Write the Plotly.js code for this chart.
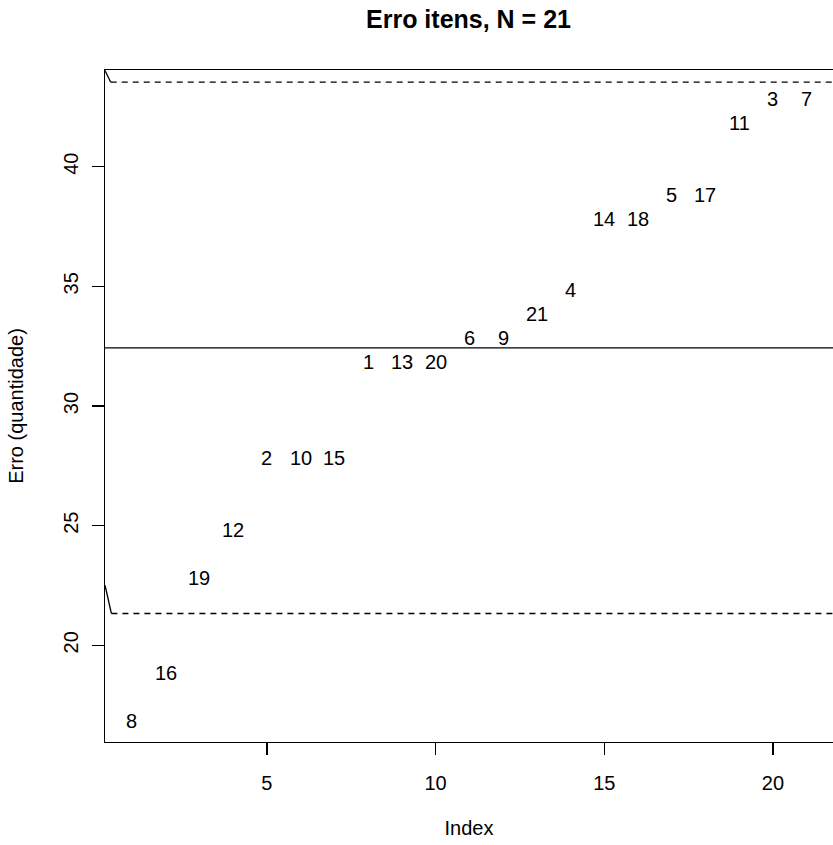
<!DOCTYPE html>
<html>
<head>
<meta charset="utf-8">
<script src="https://cdn.plot.ly/plotly-3.0.1.min.js"></script>
<style>html,body{margin:0;padding:0;background:#fff;}#chart{width:833px;height:845px;}</style>
</head>
<body>
<div id="chart"></div>
<script>
// Data
const indexVals = [1,2,3,4,5,6,7,8,9,10,11,12,13,14,15,16,17,18,19,20,21];
const errValues = [17,19,23,25,28,28,28,32,32,32,33,33,34,35,38,38,39,39,42,43,43];
const itemLabels = ["8","16","19","12","2","10","15","1","13","20","6","9","21","4","14","18","5","17","11","3","7"];
const meanLine = 32.43;
const lowerLimit = 21.33;
const upperLimit = 43.53;
// short connector segments near left edge [x0,y0,x1,y1]
const upperConnector = [0.2, 44.02, 0.37, 43.53];
const lowerConnector = [0.2, 22.51, 0.39, 21.33];
const xTicks = [5,10,15,20];
const yTicks = [20,25,30,35,40];

const font = "Liberation Sans, Arial, Helvetica, sans-serif";

const trace = {
  x: indexVals,
  y: errValues,
  mode: "markers",
  type: "scatter",
  marker: {opacity: 0},
  hoverinfo: "none"
};

const annotations = indexVals.map((xv, i) => ({
  x: xv, y: errValues[i], xref: "x", yref: "y",
  text: itemLabels[i], showarrow: false,
  xanchor: "center", yanchor: "middle", yshift: -4,
  font: {family: font, size: 20, color: "#000"}
}));

const shapes = [
  {type:"line", xref:"paper", yref:"y", x0:0, x1:1, y0:meanLine, y1:meanLine, line:{color:"#000", width:1.3}},
  {type:"line", xref:"x", yref:"y", x0:upperConnector[2], x1:21.78, y0:upperLimit, y1:upperLimit, line:{color:"#000", width:1.3, dash:"6px,5px"}},
  {type:"line", xref:"x", yref:"y", x0:lowerConnector[2], x1:21.78, y0:lowerLimit, y1:lowerLimit, line:{color:"#000", width:1.3, dash:"6px,5px"}},
  {type:"line", xref:"x", yref:"y", x0:upperConnector[0], y0:upperConnector[1], x1:upperConnector[2], y1:upperConnector[3], line:{color:"#000", width:1.3}},
  {type:"line", xref:"x", yref:"y", x0:lowerConnector[0], y0:lowerConnector[1], x1:lowerConnector[2], y1:lowerConnector[3], line:{color:"#000", width:1.3}}
];

const layout = {
  width: 833,
  height: 845,
  margin: {l: 105, r: 0, t: 70, b: 103, pad: 0},
  paper_bgcolor: "#fff",
  plot_bgcolor: "#fff",
  showlegend: false,
  title: {
    text: "<b>Erro itens, N = 21</b>",
    font: {family: font, size: 25, color: "#000"},
    xref: "container", x: 468.5/833, xanchor: "center",
    yref: "container", y: 1 - 19/845, yanchor: "middle"
  },
  xaxis: {
    range: [0.2, 21.78],
    tickvals: xTicks,
    ticktext: xTicks.map(String),
    ticks: "outside", ticklen: 12, tickwidth: 1.3, tickcolor: "#000",
    showline: true, linecolor: "#000", linewidth: 1.3, mirror: true,
    showgrid: false, zeroline: false,
    tickfont: {family: font, size: 20, color: "#000"},
    ticklabelstandoff: 11,
    title: {text: "Index", font: {family: font, size: 20, color: "#000"}, standoff: 27}
  },
  yaxis: {
    range: [15.96, 44.04],
    tickvals: yTicks,
    ticktext: yTicks.map(String),
    tickangle: -90,
    ticks: "outside", ticklen: 12, tickwidth: 1.3, tickcolor: "#000",
    showline: true, linecolor: "#000", linewidth: 1.3, mirror: false,
    showgrid: false, zeroline: false,
    tickfont: {family: font, size: 20, color: "#000"},
    ticklabelstandoff: 6,
    title: {text: "Erro (quantidade)", font: {family: font, size: 20, color: "#000"}, standoff: 30}
  },
  shapes: shapes,
  annotations: annotations
};

Plotly.newPlot("chart", [trace], layout, {displayModeBar: false, staticPlot: true});
</script>
</body>
</html>
